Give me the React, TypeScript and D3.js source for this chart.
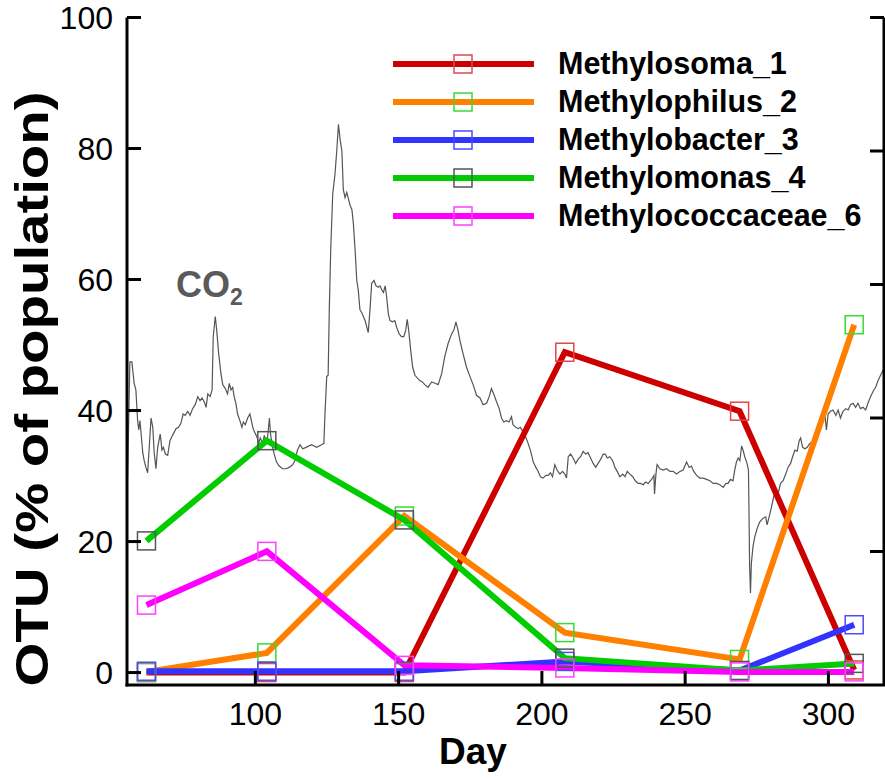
import React from "react";
import * as d3 from "d3";

// Sampling days for the 16S OTU profiles
const days = [62, 104, 152, 208, 269, 309];

// Relative abundance of each OTU (% of population)
const methylosoma1 = [0, 0, 0, 48.9, 39.9, 0.4];
const methylophilus2 = [0.1, 3.0, 23.9, 6.1, 2.0, 53.1];
const methylobacter3 = [0.2, 0.2, 0.2, 1.7, 0.3, 7.3];
const methylomonas4 = [20.1, 35.4, 23.3, 2.2, 0.3, 1.4];
const methylococcaceae6 = [10.3, 18.5, 1.1, 0.7, 0.1, 0.1];

const seriesNames = [
  "Methylosoma_1",
  "Methylophilus_2",
  "Methylobacter_3",
  "Methylomonas_4",
  "Methylococcaceae_6",
];
const seriesValues = [methylosoma1, methylophilus2, methylobacter3, methylomonas4, methylococcaceae6];
const lineColors = ["#cc0000", "#ff8000", "#3333ff", "#00cc00", "#ff00ff"];
const markerColors = ["#e04848", "#33dd33", "#4a4aff", "#555555", "#ff40ff"];

// CO2 record: [day, value on the right-hand axis]
const co2Series: [number, number][] = [
  [55.4, 15.6], [56.2, 24.2], [56.9, 24.2], [57.7, 22.6], [58.3, 22.1], [58.9, 19.8], [59.3, 19.1], [59.7, 19.8],
  [60.1, 18.9], [60.7, 17.4], [61.2, 16.8], [61.8, 16.3], [62.4, 15.9], [63.6, 20.0], [64.2, 19.3], [64.7, 17.4],
  [65.3, 16.2], [65.9, 17.8], [66.8, 18.8], [67.4, 17.6], [67.9, 17.8], [68.6, 17.3], [69.4, 17.2], [70.2, 18.3],
  [71.1, 18.7], [72.3, 19.2], [73.2, 19.3], [74.0, 19.6], [74.8, 20.3], [75.5, 20.2], [76.4, 20.5], [77.2, 20.2],
  [78.1, 20.7], [79.0, 21.0], [79.9, 21.6], [80.7, 21.3], [81.4, 21.5], [82.2, 21.2], [82.8, 20.8], [83.4, 21.8],
  [84.2, 21.6], [84.9, 22.1], [85.3, 26.1], [86.0, 27.6], [86.5, 26.6], [87.2, 24.8], [88.0, 23.3], [88.6, 22.5],
  [89.5, 22.2], [90.3, 21.8], [90.9, 22.6], [91.5, 22.1], [92.1, 22.3], [92.6, 21.6], [93.2, 21.1], [93.8, 20.3],
  [94.6, 19.8], [95.3, 19.3], [95.8, 19.7], [96.5, 19.5], [97.3, 20.0], [98.1, 20.3], [98.6, 19.8], [99.1, 19.3],
  [99.6, 19.0], [100.5, 18.6], [101.2, 18.1], [101.7, 18.5], [102.6, 18.1], [103.1, 18.7], [103.7, 18.3], [104.3, 18.6],
  [104.9, 20.0], [105.3, 18.8], [106.0, 17.8], [106.7, 17.2], [107.4, 16.7], [108.3, 16.4], [109.5, 16.2], [110.7, 16.2],
  [111.8, 16.3], [113.0, 16.5], [113.8, 16.8], [114.7, 17.6], [115.6, 18.0], [116.5, 17.7], [117.7, 17.8], [119.6, 18.0],
  [121.4, 17.8], [123.1, 18.0], [123.9, 18.1], [124.3, 20.3], [124.9, 23.1], [125.4, 23.2], [125.8, 28.1], [126.3, 32.6],
  [127.0, 36.8], [127.8, 38.3], [128.4, 40.0], [129.0, 42.0], [129.6, 40.8], [130.2, 40.0], [130.7, 37.1], [131.3, 36.5],
  [131.9, 36.9], [132.5, 36.4], [133.1, 35.9], [133.7, 35.6], [134.2, 34.6], [134.8, 32.6], [135.4, 30.3], [135.9, 29.6],
  [136.5, 28.1], [137.1, 27.9], [138.3, 27.3], [139.4, 26.4], [140.0, 28.1], [140.6, 30.1], [141.4, 30.3], [142.1, 29.9],
  [142.9, 29.8], [143.5, 29.9], [144.1, 29.6], [144.7, 29.4], [145.3, 29.9], [145.8, 29.1], [146.4, 27.8], [147.0, 27.3],
  [147.9, 27.2], [148.7, 27.3], [149.3, 26.8], [150.2, 26.3], [151.0, 26.1], [151.8, 26.1], [152.5, 26.6], [153.0, 27.4],
  [153.5, 26.6], [154.2, 25.1], [154.9, 23.8], [155.7, 23.2], [156.5, 23.0], [157.4, 22.8], [158.3, 22.7], [159.1, 22.5],
  [160.3, 22.3], [161.5, 22.7], [162.7, 22.6], [163.8, 22.5], [165.0, 23.3], [166.1, 24.6], [167.3, 25.6], [168.5, 26.3],
  [169.3, 26.6], [170.0, 27.2], [170.7, 26.6], [171.4, 25.8], [172.5, 24.8], [173.7, 23.8], [174.9, 23.1], [176.0, 22.5],
  [177.2, 21.7], [178.4, 21.5], [179.5, 21.0], [180.7, 21.1], [181.6, 21.6], [182.4, 22.2], [183.2, 21.8], [184.2, 21.2],
  [185.1, 20.7], [185.9, 20.0], [186.7, 19.7], [187.6, 19.8], [188.5, 19.7], [189.4, 20.1], [189.9, 19.5], [190.9, 19.3],
  [191.7, 19.2], [192.5, 19.3], [193.3, 19.0], [194.1, 18.7], [195.2, 18.1], [196.1, 17.5], [197.0, 16.7], [197.9, 16.3],
  [198.7, 16.0], [199.5, 15.6], [200.4, 15.5], [201.4, 15.7], [202.2, 15.7], [203.0, 15.9], [203.7, 15.6], [204.5, 16.5],
  [205.3, 16.1], [206.3, 15.8], [207.2, 16.0], [208.0, 15.8], [208.6, 15.5], [209.2, 17.1], [210.0, 17.3], [210.9, 17.0],
  [211.8, 16.6], [212.6, 16.9], [213.5, 17.1], [214.4, 17.5], [215.3, 17.3], [216.1, 17.4], [217.0, 17.0], [217.9, 16.6],
  [218.8, 16.3], [219.6, 16.6], [220.5, 16.9], [221.4, 17.3], [222.1, 17.3], [222.8, 17.0], [223.7, 17.1], [224.7, 16.8],
  [225.5, 16.3], [226.3, 16.0], [227.2, 15.6], [228.2, 15.8], [229.0, 15.6], [229.8, 16.0], [230.7, 15.8], [231.7, 15.6],
  [232.6, 15.3], [233.6, 15.1], [234.4, 15.1], [235.4, 15.0], [236.2, 15.2], [237.1, 15.1], [237.9, 15.3], [238.6, 15.5],
  [239.1, 15.7], [239.3, 14.3], [239.8, 15.8], [240.2, 16.5], [241.2, 16.2], [242.3, 16.1], [243.5, 16.2], [244.7, 16.0],
  [245.8, 16.0], [247.0, 15.8], [248.2, 16.0], [249.3, 16.1], [250.5, 16.7], [251.4, 16.3], [252.2, 16.4], [253.0, 16.0],
  [254.0, 15.7], [255.1, 15.5], [256.3, 15.5], [257.5, 15.4], [258.6, 15.3], [259.8, 15.1], [261.0, 15.1], [262.1, 15.0],
  [263.3, 14.8], [264.2, 15.1], [265.0, 15.1], [265.8, 15.4], [266.7, 15.3], [267.3, 16.1], [267.9, 16.7], [268.5, 17.0],
  [269.1, 16.8], [269.7, 17.9], [270.2, 17.6], [270.8, 17.1], [271.6, 16.6], [272.1, 16.1], [272.3, 12.6], [272.5, 8.9],
  [272.8, 6.9], [273.1, 9.1], [273.7, 10.4], [274.3, 11.1], [275.1, 11.7], [276.0, 12.2], [277.2, 12.5], [278.1, 12.6],
  [278.6, 12.0], [279.3, 12.6], [280.1, 13.3], [280.9, 14.1], [281.6, 14.6], [282.4, 14.3], [283.3, 15.1], [284.2, 15.3],
  [285.1, 15.8], [285.9, 16.3], [286.8, 16.6], [287.5, 17.1], [288.3, 17.6], [289.1, 17.5], [289.8, 18.3], [290.3, 18.5],
  [291.0, 17.8], [291.8, 17.7], [292.6, 17.8], [293.5, 18.1], [294.5, 18.2], [295.3, 18.5], [296.1, 19.0], [297.0, 19.6],
  [298.0, 20.0], [298.8, 20.2], [299.3, 19.1], [299.9, 20.3], [300.7, 20.5], [301.6, 20.6], [302.6, 20.2], [303.4, 20.6],
  [304.2, 20.0], [305.1, 20.5], [306.1, 20.7], [306.9, 20.6], [307.7, 21.0], [308.6, 21.1], [309.5, 20.8], [310.3, 21.1],
  [311.2, 20.7], [312.1, 20.8], [313.0, 20.6], [313.8, 21.1], [314.7, 21.6], [315.6, 22.0], [316.5, 22.3], [317.3, 22.8],
  [318.2, 23.2], [319.1, 23.6],
];

const xTicks = [100, 150, 200, 250, 300];
const yTicks = [0, 20, 40, 60, 80, 100];
const rightTicks = [10, 20, 30, 40, 50];

const W = 885;
const H = 779;
const left = 127;
const right = 884;
const top = 17.5;
const bottom = 685;

const FONT = "'Liberation Sans', Arial, Helvetica, sans-serif";

export default function App() {
  const x = d3.scaleLinear().domain([55.2, 319.4]).range([left, right]);
  const y = d3.scaleLinear().domain([-1.9, 100]).range([bottom, top]);
  const yCo2 = d3.scaleLinear().domain([0, 50]).range([bottom, top]);

  const co2Line = d3
    .line<[number, number]>()
    .x((d) => x(d[0]))
    .y((d) => yCo2(d[1]));

  const otuLine = d3
    .line<number>()
    .x((_, i) => x(days[i]))
    .y((d) => y(d));

  const tickLen = 14;
  const axisW = 3;
  const mk = 18;

  const legendY = [64, 102, 140, 178, 216];

  return (
    <svg
      width={W}
      height={H}
      viewBox={`0 0 ${W} ${H}`}
      style={{ position: "absolute", left: 0, top: 0, background: "#fff" }}
      fontFamily={FONT}
    >
      <rect x={0} y={0} width={W} height={H} fill="#fff" />

      {/* CO2 trace */}
      <path d={co2Line(co2Series) || ""} fill="none" stroke="#555" strokeWidth={1.2} />

      {/* OTU lines */}
      {seriesValues.map((vals, i) => (
        <path
          key={seriesNames[i]}
          d={otuLine(vals) || ""}
          fill="none"
          stroke={lineColors[i]}
          strokeWidth={6}
          strokeLinejoin="miter"
        />
      ))}
      {seriesValues.map((vals, i) =>
        vals.map((v, j) => (
          <rect
            key={`${i}-${j}`}
            x={x(days[j]) - mk / 2}
            y={y(v) - mk / 2}
            width={mk}
            height={mk}
            fill="none"
            stroke={markerColors[i]}
            strokeWidth={1.5}
          />
        ))
      )}

      {/* Axes */}
      <line x1={left} x2={left} y1={top} y2={bottom + axisW / 2} stroke="#000" strokeWidth={axisW} />
      <line x1={left - axisW / 2} x2={right + 2} y1={bottom} y2={bottom} stroke="#000" strokeWidth={axisW} />
      <line x1={right} x2={right} y1={top} y2={bottom} stroke="#000" strokeWidth={axisW} />

      {yTicks.map((t) => (
        <g key={`y${t}`}>
          <line x1={left} x2={left + tickLen} y1={y(t)} y2={y(t)} stroke="#000" strokeWidth={axisW} />
          <text x={113} y={y(t) + 11} textAnchor="end" fontSize={32}>
            {t}
          </text>
        </g>
      ))}
      {rightTicks.map((t) => (
        <line key={`r${t}`} x1={right} x2={right - tickLen} y1={yCo2(t)} y2={yCo2(t)} stroke="#000" strokeWidth={axisW} />
      ))}
      {xTicks.map((t) => (
        <g key={`x${t}`}>
          <line x1={x(t)} x2={x(t)} y1={bottom} y2={bottom - tickLen} stroke="#000" strokeWidth={axisW} />
          <text x={x(t)} y={725} textAnchor="middle" fontSize={32}>
            {t}
          </text>
        </g>
      ))}

      {/* Axis titles */}
      <text x={473} y={764} textAnchor="middle" fontSize={37} fontWeight="bold">
        Day
      </text>
      <text
        transform="translate(48, 389) rotate(-90)"
        textAnchor="middle"
        fontSize={46}
        fontWeight="bold"
        textLength={595}
        lengthAdjust="spacingAndGlyphs"
      >
        OTU (% of population)
      </text>

      {/* CO2 label */}
      <text x={176} y={297} fontSize={36} fontWeight="bold" fill="#5a5a5a">
        CO
        <tspan fontSize={23} dy={8}>
          2
        </tspan>
      </text>

      {/* Legend */}
      {seriesNames.map((name, i) => (
        <g key={`lg${i}`}>
          <line x1={393} x2={534} y1={legendY[i]} y2={legendY[i]} stroke={lineColors[i]} strokeWidth={6} />
          <rect
            x={463 - mk / 2}
            y={legendY[i] - mk / 2}
            width={mk}
            height={mk}
            fill="none"
            stroke={markerColors[i]}
            strokeWidth={1.5}
          />
          <text x={558} y={legendY[i] + 10} fontSize={30.5} fontWeight="bold">
            {name}
          </text>
        </g>
      ))}
    </svg>
  );
}
